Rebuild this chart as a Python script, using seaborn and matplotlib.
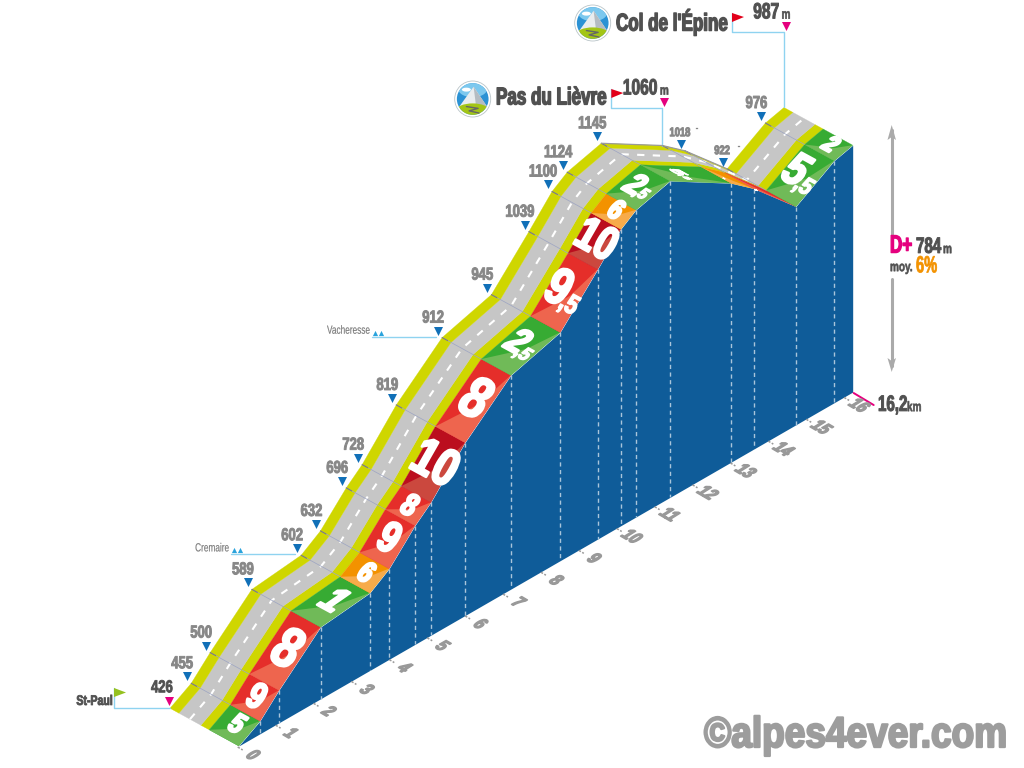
import numpy as np
import pandas as pd
import matplotlib
matplotlib.use("Agg")
import matplotlib.pyplot as plt
import seaborn as sns
from matplotlib.patches import Circle, Ellipse, Polygon
from matplotlib.patheffects import AbstractPathEffect
from matplotlib.transforms import Affine2D

# profile
km = [0, 0.56, 1.06, 2.16, 3.46, 3.97, 4.65, 5.07, 5.97, 7.18, 8.48, 9.47,
      10.08, 10.48, 11.38, 12.99, 13.59, 14.7, 15.71, 16.2]
alt = [426, 455, 500, 589, 602, 632, 696, 728, 819, 912, 945, 1039,
       1100, 1124, 1145, 1060, 1018, 922, 976, 987]
grade = ['5', '9', '8', '1', '6', '9', '8', '10', '8', '2,5', '9,5', '10',
         '6', '2,5', '5,5', '7', '8,5', '5,5', '2']
grade_col = ['green', 'red', 'red', 'green', 'orange', 'red', 'red', 'dark', 'red', 'green', 'red', 'dark',
             'orange', 'green', 'green', 'orange', 'red', 'green', 'green']
km_ticks = list(range(17))
total_km = '16,2'
climb = '784'
mean_grade = '6%'
villages = {'Cremaire': 602, 'Vacheresse': 912}

grade_size = [21, 27, 42, 31, 22, 32, 23, 38, 43, 29, 38, 34, 21, 25, 24, 3, 3, 35, 19]
shades = {'green': ('#37ab33', '#70ba58'), 'red': ('#e52e2a', '#ee654e'),
          'orange': ('#f39200', '#f7ab4a'), 'dark': ('#bb0e1e', '#cb483e')}
BLUE = '#0f5c99'
YELLOW = '#cfd600'
ROAD = '#c6c6c6'
GREY = '#878787'
DARK = '#505050'
PINK = '#e5007e'
LINE = '#8fd3f0'

sns.set_theme(style="white")
plt.rcParams['font.family'] = ['Liberation Sans', 'DejaVu Sans']

df = pd.DataFrame({'km': km, 'alt': alt})

fig = plt.figure(figsize=(10.24, 7.68), dpi=100)
ax = fig.add_axes([0, 0, 1, 1])
ax.set_xlim(0, 1024)
ax.set_ylim(768, 0)
ax.axis('off')


def proj(k, a, c=0.0):
    # c is the position across the road, 0 = front edge, 1 = back edge
    return (238.7 + 37.9 * k - 68.7 * c,
            746 - 21.85 * k - 0.44 * (a - 426) - 37.7 * c)


def base(k):
    return 238.7 + 37.9 * k, 746 - 21.85 * k


class Slant(AbstractPathEffect):
    # draws real text squeezed and sheared, the way the picture does
    def __init__(self, anchor, ex, ey, stroke):
        super().__init__()
        self.anchor, self.ex, self.ey, self.stroke = anchor, ex, ey, stroke

    def draw_path(self, renderer, gc, tpath, affine, rgbFace=None):
        m = (Affine2D().translate(-self.anchor[0], -self.anchor[1])
             + Affine2D.from_values(self.ex[0], self.ex[1], self.ey[0], self.ey[1], 0, 0)
             + Affine2D().translate(*self.anchor))
        gc0 = renderer.new_gc()
        gc0.copy_properties(gc)
        gc0.set_linewidth(self.stroke)
        gc0.set_foreground(rgbFace[:3])
        renderer.draw_path(gc0, tpath, affine + m, rgbFace)
        gc0.restore()


def put(x, y, s, size, color, xs=0.75, ex=None, ey=None, stroke=0.4,
        ha='center', va='center', weight='bold', z=20):
    # the font size carries the squeeze, so the text box is as wide as what is drawn
    if ex is None:
        f, ex, ey = xs, (1, 0), (0, 1 / xs)
    else:
        f = 0.45
        ex, ey = (ex[0] / f, ex[1] / f), (ey[0] / f, ey[1] / f)
    t = ax.text(x, y, s, fontsize=size * f, color=color, ha=ha, va=va, fontweight=weight, zorder=z)
    t.set_path_effects([Slant(tuple(ax.transData.transform((x, y))), ex, ey, stroke)])
    return t


def line(xs, ys, color, lw, z=5, **kws):
    sns.lineplot(x=list(xs), y=list(ys), color=color, linewidth=lw, sort=False,
                 estimator=None, legend=False, ax=ax, zorder=z, **kws)


def tri(points, color, size=42, marker='v', z=8):
    sns.scatterplot(x=[p[0] for p in points], y=[p[1] for p in points], color=color,
                    marker=marker, s=size, linewidth=0, legend=False, ax=ax, zorder=z)


def icon(cx, cy, r):
    ax.add_patch(Circle((cx, cy), r, fc='white', ec='#b9c4c8', lw=0.6, zorder=9))
    disc = Circle((cx, cy), r * 0.88, fc='#2b92d4', ec='none', zorder=10)
    ax.add_patch(disc)
    parts = [Ellipse((cx, cy - 0.55 * r), 1.6 * r, 0.9 * r, fc='#7cc8ee', ec='none', zorder=10),
             Ellipse((cx - 0.35 * r, cy - 0.52 * r), 0.5 * r, 0.22 * r, fc='white', ec='none', zorder=11),
             Polygon([(cx - 0.8 * r, cy + 0.5 * r), (cx + 0.05 * r, cy - 0.68 * r), (cx + 0.85 * r, cy + 0.5 * r)],
                     fc='#e9edef', ec='none', zorder=11),
             Polygon([(cx + 0.05 * r, cy - 0.68 * r), (cx + 0.85 * r, cy + 0.5 * r), (cx + 0.2 * r, cy + 0.5 * r)],
                     fc='#b4bcc2', ec='none', zorder=11),
             Ellipse((cx, cy + 0.62 * r), 1.8 * r, 0.75 * r, fc='#a3c516', ec='none', zorder=12)]
    for p in parts:
        ax.add_patch(p)
        p.set_clip_path(disc)
    xw = cx + r * np.array([-0.35, 0.3, -0.2, 0.35])
    yw = cy + r * np.array([0.42, 0.52, 0.66, 0.78])
    line(xw, yw, '#666666', 1.0, z=13)


# blue wall under the road
front = np.array([proj(k, a) for k, a in zip(km, alt)])
bottom = np.array([base(k) for k in km])
ax.fill_between(front[:, 0], front[:, 1], bottom[:, 1], color=BLUE, lw=0, zorder=1)

for i in range(1, len(km) - 1):
    line([front[i, 0], bottom[i, 0]], [front[i, 1], bottom[i, 1]], '#a9c5db', 1.0, z=2,
         linestyle=(0, (3, 2.5)))

# road strips, one quad per segment
bands = [(0.43, 0.55, YELLOW), (0.55, 0.87, ROAD), (0.87, 1.0, YELLOW)]
for i in range(len(km) - 1):
    k0, k1, a0, a1 = df.km[i], df.km[i + 1], df.alt[i], df.alt[i + 1]
    for c0, c1, col in bands:
        ax.add_patch(Polygon([proj(k0, a0, c0), proj(k1, a1, c0), proj(k1, a1, c1), proj(k0, a0, c1)],
                             fc=col, ec=col, lw=0.2, zorder=3))
    top, light = shades[grade_col[i]]
    ax.add_patch(Polygon([proj(k0, a0), proj(k1, a1), proj(k1, a1, 0.43), proj(k0, a0, 0.43)],
                         fc=top, ec=top, lw=0.2, zorder=3))
    km_mid, a_mid = (k0 + k1) / 2, (a0 + a1) / 2
    ax.add_patch(Polygon([proj(k0, a0, 0.43), proj(k0, a0), proj(k1, a1), proj(km_mid, a_mid, 0.13)],
                         fc=light, ec='none', zorder=3))

# dashed centre line and the section lines
centre = np.array([proj(k, a, 0.71) for k, a in zip(km, alt)])
line(centre[:, 0], centre[:, 1], 'white', 1.5, z=5, linestyle=(0, (3.5, 4)))
back = np.array([proj(k, a, 1) for k, a in zip(km, alt)])
for i in range(1, len(km) - 1):
    p0, p1 = proj(km[i], alt[i], 0.43), back[i]
    line([p0[0], p1[0]], [p0[1], p1[1]], '#9aa2c0', 0.5, z=6)
    p2 = proj(km[i], alt[i], 0.92)
    line([p2[0], p1[0]], [p2[1], p1[1]], '#7d7d7d', 0.8, z=6)
# the falling part shows a grey back edge
line(back[14:18, 0], back[14:18, 1], '#9a9a9a', 0.9, z=6)

# gradient numbers, sheared to sit on the strip
for i, (g, size) in enumerate(zip(grade, grade_size)):
    k0, k1, a0, a1 = km[i], km[i + 1], alt[i], alt[i + 1]
    mx, my = proj((k0 + k1) / 2, (a0 + a1) / 2, 0.2)
    d = np.array([front[i + 1, 0] - front[i, 0], front[i, 1] - front[i + 1, 1]])
    d = d / np.hypot(*d)
    sw = 1.8 if size > 15 else 0.2
    if d[1] < 0.1:
        # on the flat falling part the digits lie almost in the road's own direction
        d = d * 0.45
        sw = 0.8
        mx = mx - 5
    ex = np.array([0.68, -0.37])
    em = size * 100 / 72
    parts = g.split(',')
    if len(parts) == 2:
        u = ex * em * 0.42 - d * em * 0.17
        mx0, my0 = mx - ex[0] * em * 0.2, my + ex[1] * em * 0.2
        put(mx0, my0, parts[0], size, 'white', ex=tuple(ex), ey=tuple(d), stroke=sw, z=7)
        put(mx0 + u[0], my0 - u[1], ',' + parts[1], size * 0.52, 'white', ex=tuple(ex), ey=tuple(d), stroke=sw * 0.6, z=7)
    else:
        put(mx, my, g, size, 'white', ex=tuple(ex), ey=tuple(d), stroke=sw, z=7)

# altitude marks along the back edge
plain = [a for a in alt if a not in (426, 1060, 987)]
marks = []
for k, a in zip(km, alt):
    if a in plain:
        bx, by = proj(k, a, 1)
        marks.append((bx - 4, by - 7))
        small = a in (1018, 922)
        put(bx - 9 + (4 if small else 0), by - 19 + (1 if small else 0), str(a), 9 if small else 12.5, GREY, stroke=0.7)
        if small:
            put(bx + 12, by - 22, '-', 7, GREY, stroke=0.2)
tri(marks, '#1170b8')

# km scale under the wall
for k in km_ticks:
    bx, by = base(k)
    line([bx - 1, bx + 4], [by + 1, by + 4], '#999999', 1.1, z=4, linestyle=(0, (1.6, 1)))
    put(bx + 13.5, by + 9.5, str(k), 15, '#999999', ex=(0.6, -0.35), ey=(0.8, 0.5), stroke=1.0)

# start
sx, sy = proj(km[0], alt[0], 1)
put(112.5, 701, 'St-Paul', 10, DARK, xs=0.76, ha='right', stroke=0.6)
line([114, 114, sx], [688, 707.5, 707.5], LINE, 1.0, z=4)
ax.add_patch(Polygon([(114, 688), (126, 692.5), (114, 697)], fc='#95c11f', ec='none', zorder=8))
tri([(sx - 1.5, sy - 7)], PINK)
put(sx - 8, sy - 20, '426', 12.5, DARK, stroke=0.6)

# villages
for name, a in villages.items():
    bx, by = proj(km[alt.index(a)], a, 1)
    lx = bx - 70
    put(lx - 2, by - 6, name, 8.5, '#777777', xs=0.7, ha='right', weight='normal', stroke=0.1)
    tri([(lx + 3, by - 5), (lx + 9, by - 5)], '#2aa3dc', size=14, marker='^')
    line([lx, bx - 6], [by - 1, by - 1], LINE, 1.0, z=4)

# the two passes
for name, a, tx, ty, ix, fx in [("Col de l'Épine", 987, 616, 22, 592.7, 732),
                                ('Pas du Lièvre', 1060, 496, 98, 472.7, 611.3)]:
    bx, by = proj(km[alt.index(a)], a, 1)
    icon(ix, ty + 1, 18)
    put(tx, ty, name, 17.5, DARK, xs=0.70, ha='left', stroke=1.0)
    line([fx, fx, bx, bx], [ty - 9, ty + 10, ty + 10, by], LINE, 1.0, z=4)
    ax.add_patch(Polygon([(fx, ty - 9), (fx + 12, ty - 5), (fx, ty)], fc='#e2001a', ec='none', zorder=8))
    tri([(bx + 2, ty + 4)], PINK)
    put(bx - 5, ty - 10, str(a), 16, DARK, ha='right', xs=0.7, stroke=0.7)
    put(bx + 2, ty - 7.5, 'm', 10, DARK, xs=0.72, stroke=0.4)

# climb totals on the right
line([891.7, 891.7], [130, 234], '#aaaaaa', 2.2, z=4)
line([891.7, 891.7], [279, 366], '#aaaaaa', 2.2, z=4)
ax.add_patch(Polygon([(891.7, 125), (896, 140), (891.7, 137), (887.5, 140)], fc='#aaaaaa', ec='none', zorder=5))
ax.add_patch(Polygon([(891.7, 372), (896, 358), (891.7, 361), (887.5, 358)], fc='#aaaaaa', ec='none', zorder=5))
put(890, 246, 'D+', 18, PINK, xs=0.68, ha='left', stroke=0.9)
put(916, 247, climb, 16, DARK, xs=0.68, ha='left', stroke=0.7)
put(943, 249, 'm', 10, DARK, xs=0.72, ha='left', stroke=0.4)
put(890, 267, 'moy.', 10, DARK, xs=0.72, ha='left', stroke=0.4)
put(916, 266, mean_grade, 17, '#f39200', xs=0.62, ha='left', stroke=0.5)

# distance
ex_, ey_ = proj(km[-1], alt[-1])[0], base(km[-1])[1]
line([ex_ + 1, ex_ + 21], [ey_ + 1, ey_ + 13], PINK, 1.4, z=9)
put(878, 405, total_km, 16, DARK, xs=0.68, ha='left', stroke=0.7)
put(907, 407, 'km', 10, DARK, xs=0.72, ha='left', stroke=0.4)

# watermark
put(704, 736, '©alpes4ever.com', 31, '#9d9d9d', xs=0.86, ha='left', stroke=1.6)

fig.savefig('out.png', dpi=100)
plt.close('all')
